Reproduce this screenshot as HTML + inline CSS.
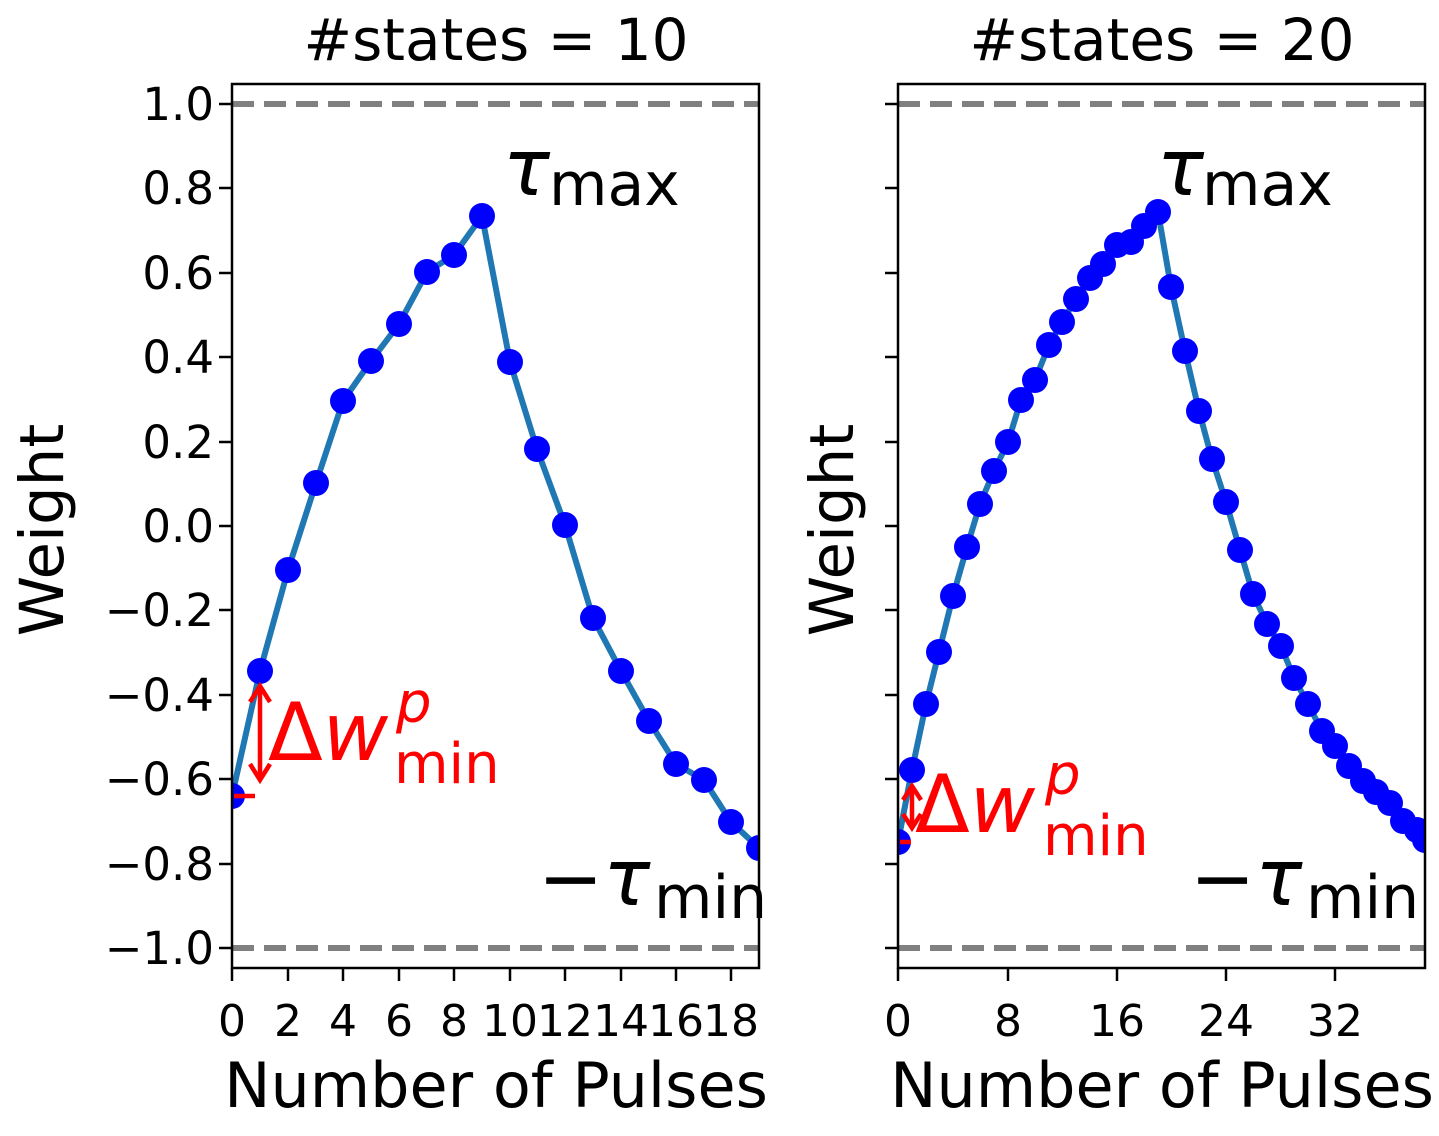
<!DOCTYPE html>
<html><head><meta charset="utf-8"><style>body{margin:0;background:#fff}svg{display:block}text{font-family:"DejaVu Sans","Liberation Sans",sans-serif}</style></head><body>
<svg width="1439" height="1136" viewBox="0 0 1439 1136" xmlns="http://www.w3.org/2000/svg">
<defs>
<clipPath id="c1"><rect x="232" y="84" width="527" height="884"/></clipPath>
<clipPath id="c2"><rect x="898" y="84" width="527" height="884"/></clipPath>
</defs>
<!-- left -->
<g clip-path="url(#c1)">
<line x1="232" x2="759" y1="104" y2="104" stroke="#808080" stroke-width="6" stroke-dasharray="22,10"/>
<line x1="232" x2="759" y1="948" y2="948" stroke="#808080" stroke-width="6" stroke-dasharray="22,10"/>
<polyline fill="none" stroke="#1f77b4" stroke-width="6" points="232,796 260,671 288,570 316,483 343,401 371,361 399,324 427,272 454,255 482,216 510,362 537,449 565,525 593,618 621,671 649,721 676,764 704,780 731,822 759,848"/>
<g fill="#0000ff">
<circle cx="232" cy="796" r="13"/><circle cx="260" cy="671" r="13"/><circle cx="288" cy="570" r="13"/><circle cx="316" cy="483" r="13"/><circle cx="343" cy="401" r="13"/><circle cx="371" cy="361" r="13"/><circle cx="399" cy="324" r="13"/><circle cx="427" cy="272" r="13"/><circle cx="454" cy="255" r="13"/><circle cx="482" cy="216" r="13"/><circle cx="510" cy="362" r="13"/><circle cx="537" cy="449" r="13"/><circle cx="565" cy="525" r="13"/><circle cx="593" cy="618" r="13"/><circle cx="621" cy="671" r="13"/><circle cx="649" cy="721" r="13"/><circle cx="676" cy="764" r="13"/><circle cx="704" cy="780" r="13"/><circle cx="731" cy="822" r="13"/><circle cx="759" cy="848" r="13"/>
</g>
</g>
<rect x="232" y="84" width="527" height="884" fill="none" stroke="#000" stroke-width="2.5"/>
<g stroke="#000" stroke-width="2.5">
<line x1="219" x2="232" y1="104" y2="104"/><line x1="219" x2="232" y1="188" y2="188"/><line x1="219" x2="232" y1="273" y2="273"/><line x1="219" x2="232" y1="357" y2="357"/><line x1="219" x2="232" y1="442" y2="442"/><line x1="219" x2="232" y1="526" y2="526"/><line x1="219" x2="232" y1="610" y2="610"/><line x1="219" x2="232" y1="695" y2="695"/><line x1="219" x2="232" y1="779" y2="779"/><line x1="219" x2="232" y1="864" y2="864"/><line x1="219" x2="232" y1="948" y2="948"/>
<line x1="232" x2="232" y1="968" y2="981"/><line x1="288" x2="288" y1="968" y2="981"/><line x1="343" x2="343" y1="968" y2="981"/><line x1="399" x2="399" y1="968" y2="981"/><line x1="454" x2="454" y1="968" y2="981"/><line x1="510" x2="510" y1="968" y2="981"/><line x1="565" x2="565" y1="968" y2="981"/><line x1="621" x2="621" y1="968" y2="981"/><line x1="676" x2="676" y1="968" y2="981"/><line x1="731" x2="731" y1="968" y2="981"/>
</g>
<g font-size="45" text-anchor="end">
<text x="214" y="120">1.0</text><text x="214" y="204">0.8</text><text x="214" y="289">0.6</text><text x="214" y="373">0.4</text><text x="214" y="458">0.2</text><text x="214" y="542">0.0</text><text x="214" y="626">−0.2</text><text x="214" y="711">−0.4</text><text x="214" y="795">−0.6</text><text x="214" y="880">−0.8</text><text x="214" y="964">−1.0</text>
</g>
<g font-size="44" text-anchor="middle">
<text x="232" y="1036">0</text><text x="288" y="1036">2</text><text x="343" y="1036">4</text><text x="399" y="1036">6</text><text x="454" y="1036">8</text><text x="510" y="1036">10</text><text x="565" y="1036">12</text><text x="621" y="1036">14</text><text x="676" y="1036">16</text><text x="731" y="1036">18</text>
</g>
<text x="496" y="60" font-size="58" text-anchor="middle">#states = 10</text>
<text x="496" y="1107" font-size="62" text-anchor="middle">Number of Pulses</text>
<text transform="translate(63,530) rotate(-90)" font-size="61" text-anchor="middle">Weight</text>
<text x="503" y="195" font-size="78" font-style="italic">τ</text><text x="549" y="205" font-size="60">max</text>
<text x="538" y="905" font-size="78">−<tspan font-style="italic">τ</tspan></text><text x="654" y="918" font-size="60">min</text>
<!-- left annotation -->
<g stroke="#ff0000" stroke-width="4.5" fill="none">
<line x1="234" x2="255" y1="796" y2="796"/>
<line x1="260" x2="260" y1="686" y2="780"/>
<polyline points="250,702 260,686 270,702"/><polyline points="250,764 260,780 270,764"/>
</g>
<text x="268" y="760" font-size="80" fill="#ff0000">Δ<tspan font-style="italic">w</tspan></text>
<text x="396" y="722" font-size="56" fill="#ff0000" font-style="italic">p</text>
<text x="394" y="783" font-size="56" fill="#ff0000">min</text>

<!-- right -->
<g clip-path="url(#c2)">
<line x1="898" x2="1425" y1="104" y2="104" stroke="#808080" stroke-width="6" stroke-dasharray="22,10"/>
<line x1="898" x2="1425" y1="948" y2="948" stroke="#808080" stroke-width="6" stroke-dasharray="22,10"/>
<polyline fill="none" stroke="#1f77b4" stroke-width="6" points="898,842 912,770 926,704 939,652 953,596 967,547 980,504 994,471 1008,442 1021,400 1035,380 1049,345 1062,322 1076,299 1090,278 1103,264 1117,245 1131,242 1144,226 1158,212 1171,287 1185,351 1199,411 1212,459 1226,502 1240,550 1253,594 1267,624 1281,646 1294,678 1308,704 1322,731 1335,746 1349,766 1363,781 1376,792 1390,803 1403,821 1417,830 1425,840"/>
<g fill="#0000ff">
<circle cx="898" cy="842" r="13"/><circle cx="912" cy="770" r="13"/><circle cx="926" cy="704" r="13"/><circle cx="939" cy="652" r="13"/><circle cx="953" cy="596" r="13"/><circle cx="967" cy="547" r="13"/><circle cx="980" cy="504" r="13"/><circle cx="994" cy="471" r="13"/><circle cx="1008" cy="442" r="13"/><circle cx="1021" cy="400" r="13"/><circle cx="1035" cy="380" r="13"/><circle cx="1049" cy="345" r="13"/><circle cx="1062" cy="322" r="13"/><circle cx="1076" cy="299" r="13"/><circle cx="1090" cy="278" r="13"/><circle cx="1103" cy="264" r="13"/><circle cx="1117" cy="245" r="13"/><circle cx="1131" cy="242" r="13"/><circle cx="1144" cy="226" r="13"/><circle cx="1158" cy="212" r="13"/><circle cx="1171" cy="287" r="13"/><circle cx="1185" cy="351" r="13"/><circle cx="1199" cy="411" r="13"/><circle cx="1212" cy="459" r="13"/><circle cx="1226" cy="502" r="13"/><circle cx="1240" cy="550" r="13"/><circle cx="1253" cy="594" r="13"/><circle cx="1267" cy="624" r="13"/><circle cx="1281" cy="646" r="13"/><circle cx="1294" cy="678" r="13"/><circle cx="1308" cy="704" r="13"/><circle cx="1322" cy="731" r="13"/><circle cx="1335" cy="746" r="13"/><circle cx="1349" cy="766" r="13"/><circle cx="1363" cy="781" r="13"/><circle cx="1376" cy="792" r="13"/><circle cx="1390" cy="803" r="13"/><circle cx="1403" cy="821" r="13"/><circle cx="1417" cy="830" r="13"/><circle cx="1425" cy="840" r="13"/>
</g>
</g>
<rect x="898" y="84" width="527" height="884" fill="none" stroke="#000" stroke-width="2.5"/>
<g stroke="#000" stroke-width="2.5">
<line x1="885" x2="898" y1="104" y2="104"/><line x1="885" x2="898" y1="188" y2="188"/><line x1="885" x2="898" y1="273" y2="273"/><line x1="885" x2="898" y1="357" y2="357"/><line x1="885" x2="898" y1="442" y2="442"/><line x1="885" x2="898" y1="526" y2="526"/><line x1="885" x2="898" y1="610" y2="610"/><line x1="885" x2="898" y1="695" y2="695"/><line x1="885" x2="898" y1="779" y2="779"/><line x1="885" x2="898" y1="864" y2="864"/><line x1="885" x2="898" y1="948" y2="948"/>
<line x1="898" x2="898" y1="968" y2="981"/><line x1="1008" x2="1008" y1="968" y2="981"/><line x1="1117" x2="1117" y1="968" y2="981"/><line x1="1226" x2="1226" y1="968" y2="981"/><line x1="1335" x2="1335" y1="968" y2="981"/>
</g>
<g font-size="44" text-anchor="middle">
<text x="898" y="1036">0</text><text x="1008" y="1036">8</text><text x="1117" y="1036">16</text><text x="1226" y="1036">24</text><text x="1335" y="1036">32</text>
</g>
<text x="1162" y="60" font-size="58" text-anchor="middle">#states = 20</text>
<text x="1162" y="1107" font-size="62" text-anchor="middle">Number of Pulses</text>
<text transform="translate(853,530) rotate(-90)" font-size="61" text-anchor="middle">Weight</text>
<text x="1157" y="195" font-size="78" font-style="italic">τ</text><text x="1202" y="205" font-size="60">max</text>
<text x="1190" y="905" font-size="78">−<tspan font-style="italic">τ</tspan></text><text x="1306" y="918" font-size="60">min</text>
<g stroke="#ff0000" stroke-width="4.5" fill="none">
<line x1="900" x2="911" y1="842" y2="842"/>
<line x1="912" x2="912" y1="786" y2="828"/>
<polyline points="903,800 912,786 921,800"/><polyline points="903,814 912,828 921,814"/>
</g>
<text x="915" y="832" font-size="80" fill="#ff0000">Δ<tspan font-style="italic">w</tspan></text>
<text x="1045" y="794" font-size="56" fill="#ff0000" font-style="italic">p</text>
<text x="1043" y="855" font-size="56" fill="#ff0000">min</text>
</svg>
</body></html>
